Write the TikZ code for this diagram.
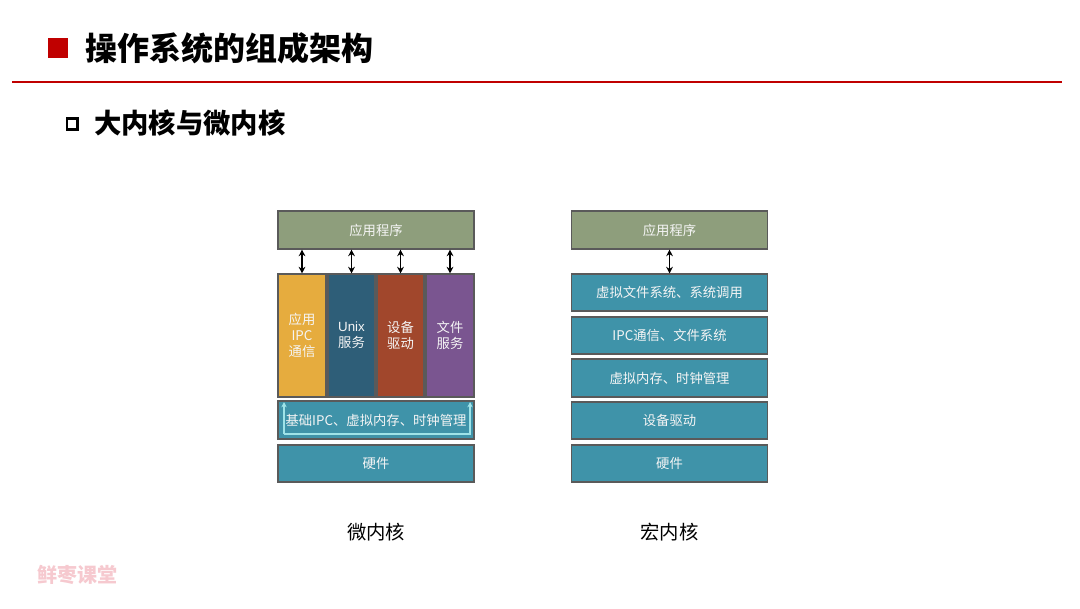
\documentclass[tikz,border=0pt]{standalone}
\usepackage{fontspec}
\setmainfont{Liberation Sans}
\newfontfamily\cjk{Noto Sans CJK SC}
\usetikzlibrary{arrows.meta}
\definecolor{tred}{HTML}{C00000}
\definecolor{olive}{HTML}{8E9E7C}
\definecolor{tealb}{HTML}{3F93A9}
\definecolor{yel}{HTML}{E6AC3E}
\definecolor{dblue}{HTML}{2E5E78}
\definecolor{rbrown}{HTML}{A1472C}
\definecolor{purp}{HTML}{7A5590}
\definecolor{edgeg}{HTML}{5A5A5A}
\definecolor{lcyan}{HTML}{9FE3E8}
\definecolor{wm}{HTML}{F6C9CF}
\tikzset{
  box/.style={draw=edgeg, line width=0.8pt, minimum width=#1*0.75pt, inner sep=0pt, font=\cjk\fontsize{10}{12}\selectfont, text=white!92!gray},
  box/.default=196,
  dbl/.style={{Stealth[length=5pt,width=5pt]}-{Stealth[length=5pt,width=5pt]}, line width=1pt, black},
}
\begin{document}
\begin{tikzpicture}[x=0.75pt,y=-0.75pt]
\useasboundingbox (0,0) rectangle (1080,608);
\fill[white] (0,0) rectangle (1080,608);
% title
\fill[tred] (48,38) rectangle (68,58);
\node[anchor=west, inner sep=0pt, font=\cjk\bfseries\fontsize{24}{27}\selectfont] (title) at (85,48) {操作系统的组成架构};
\draw[tred, line width=1.2pt] (12,82) -- (1062,82);
\draw[black, line width=1.6pt] (67,118.5) rectangle (77.5,129.5);
\node[anchor=west, inner sep=0pt, font=\cjk\bfseries\fontsize{20.5}{23}\selectfont] (sub) at (94,123) {大内核与微内核};

% micro kernel
\node[box, fill=olive, minimum height=38*0.75pt] (mapp) at (376,230) {应用程序};
\node[box=48, fill=yel, minimum height=123*0.75pt, align=center, font=\fontsize{10}{12}\selectfont\cjk] (c1) at (302,335.5) {应用\\IPC\\通信};
\node[box=47, fill=dblue, minimum height=123*0.75pt, align=center] (c2) at (351.5,335.5) {\textrm{Unix}\\服务};
\node[box=47, fill=rbrown, minimum height=123*0.75pt, align=center] (c3) at (400.5,335.5) {设备\\驱动};
\node[box=48, fill=purp, minimum height=123*0.75pt, align=center] (c4) at (450,335.5) {文件\\服务};
\node[box, fill=tealb, minimum height=38*0.75pt] (mbase) at (376,420) {基础IPC、虚拟内存、时钟管理};
\node[box, fill=tealb, minimum height=37*0.75pt] (mhw) at (376,463.5) {硬件};
\foreach \c in {c1,c2,c3,c4} {
  \draw[dbl] (\c.north |- mapp.south) -- (\c.north);
}
\coordinate (la) at (284,402);
\coordinate (ra) at (470,402);
\draw[lcyan, line width=1pt, -{Stealth[length=4pt,width=4pt]}] (284,434) -- (la);
\draw[lcyan, line width=1pt, -{Stealth[length=4pt,width=4pt]}] (284,434) -- (470,434) -- (ra);
\node[font=\cjk\fontsize{14.5}{16}\selectfont] (mlab) at (376,532) {微内核};

% macro kernel
\node[box, fill=olive, minimum height=38*0.75pt] (Mapp) at (669.5,230) {应用程序};
\node[box, fill=tealb, minimum height=37*0.75pt] (M1) at (669.5,292.5) {虚拟文件系统、系统调用};
\node[box, fill=tealb, minimum height=37*0.75pt] (M2) at (669.5,335.5) {IPC通信、文件系统};
\node[box, fill=tealb, minimum height=38*0.75pt] (M3) at (669.5,378) {虚拟内存、时钟管理};
\node[box, fill=tealb, minimum height=37*0.75pt] (M4) at (669.5,420.5) {设备驱动};
\node[box, fill=tealb, minimum height=37*0.75pt] (M5) at (669.5,463.5) {硬件};
\draw[dbl] (Mapp.south) -- (M1.north);
\node[font=\cjk\fontsize{14.5}{16}\selectfont] (Mlab) at (669.5,532) {宏内核};

% watermark
\node[anchor=west, inner sep=0pt, text=wm, font=\cjk\bfseries\fontsize{15}{17}\selectfont] (wmk) at (37,575) {鲜枣课堂};
\end{tikzpicture}
\end{document}
